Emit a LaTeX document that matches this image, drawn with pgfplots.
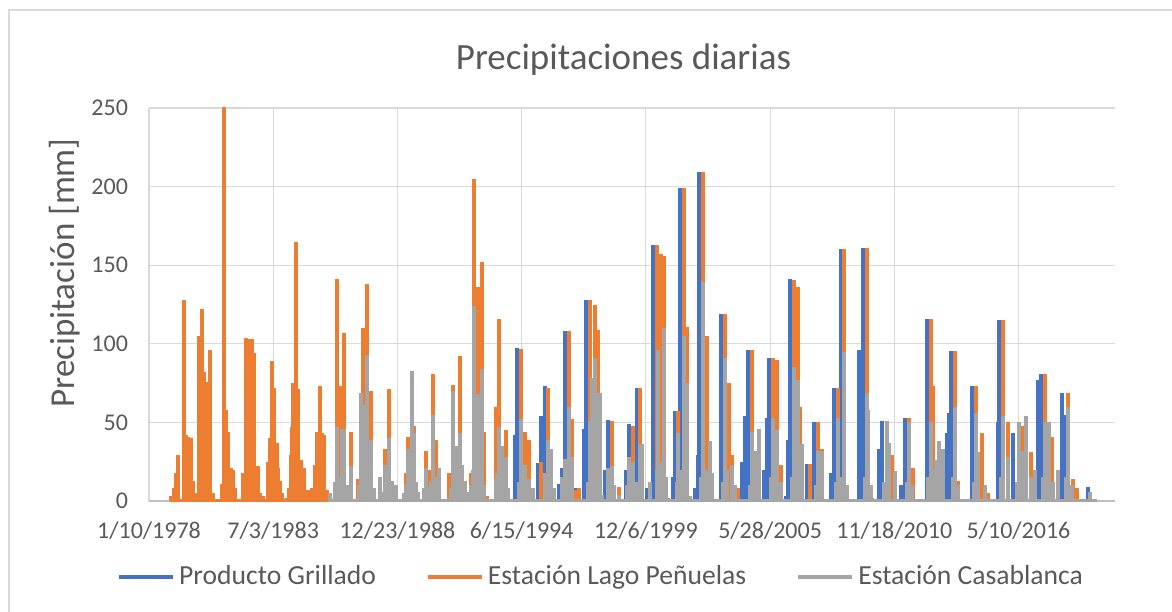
\documentclass[border=0pt]{standalone}
\usepackage{pgfplots}
\pgfplotsset{compat=1.18}
\usepackage{pgfplotstable}
\usepackage{fontspec}
\setmainfont{Carlito}
\definecolor{cblue}{HTML}{4472C4}
\definecolor{corange}{HTML}{ED7D31}
\definecolor{cgray}{HTML}{A5A5A5}
\definecolor{cgrid}{HTML}{D9D9D9}
\definecolor{ctext}{HTML}{595959}
\definecolor{caxis}{HTML}{BFBFBF}

% Producto Grillado
\pgfplotstableread{
d h
34393 42
34420 97.5
34758 24
34812 54
34876 73
35101 11
35144 21
35198 108
35370 8
35509 46
35531 128
35842 20
35896 51.5
36175 20
36235 49
36352 72
36513 8
36620 163
36942 15
36969 57
37050 199
37291 8
37334 29
37355 209
37710 119
38042 25
38096 54
38150 96
38407 20
38445 53
38488 91
38756 3
38790 39
38815 141
39094 23.5
39212 50
39475 18
39534 72
39636 160
39931 96
39991 161
40259 33
40307 51
40608 10
40672 53
41021 116
41354 43
41386 56
41413 95.6
41745 73
42175 50
42191 115
42416 43.5
42808 77
42862 80.5
43194 69
43237 55
43613 9
}\tblblue

% Estacion Lago Penuelas
\pgfplotstableread{
d h
28854 3
28900 8
28930 18
28972 29
29058 128
29091 42
29123 41
29176 40
29214 13
29250 5
29305 105
29348 122
29391 82
29429 76
29487 96
29530 5
29670 11
29705 81
29713 262
29735 58
29777 44
29820 21
29857 20
29890 8
30018 18
30062 104
30110 103
30153 103
30195 94
30234 22
30260 22
30290 5
30340 3
30411 25
30443 40
30475 89
30517 72
30556 37
30582 21
30609 13
30640 5
30717 2
30754 8
30786 29
30807 47
30823 75
30867 165
30904 71
30947 26
30975 12
31000 21
31055 7
31130 8
31173 23
31205 44
31254 73
31291 43
31323 42
31361 7
31522 141
31576 73
31645 107
31747 44
31871 14
31951 110
32005 138
32075 70
32300 33
32364 71
32418 11
32638 18
32676 41
32729 80
32772 48
32955 32
33009 20
33078 81
33116 39
33331 18
33400 74
33508 92
33588 13
33642 3
33685 18
33738 205
33792 136
33856 152
33889 44
33937 3
34082 60
34135 116
34243 45
34490 97
34554 44
34618 39
34812 25
34930 72
35263 108
35316 52
35370 7
35424 8
35601 128
35681 125
35724 109
35960 51
36068 9
36298 48
36406 72
36674 163
36744 157
36797 156
36862 2
37023 57
37114 199
37157 111
37420 209
37479 105
37774 119
37839 75
37881 29
37989 8
38214 96
38552 91
38606 90
38676 23
38890 140.5
38944 136
38982 60
39019 8
39143 23.5
39277 50
39330 33
39599 72
39695 160
40055 161
40146 2
40377 51
40468 29
40737 53
40806 21
41085 116
41128 73
41477 95.6
41531 13
41810 73
41906 43
42014 5
42255 115
42325 50
42561 48
42701 31
42926 80.5
43044 41
43302 69
43382 14
43436 8
}\tblorange

% Estacion Casablanca
\pgfplotstableread{
d h
31420 5
31500 12
31533 47
31580 15
31613 46
31645 46
31700 10
31747 22
31880 10
31914 69
31951 61
32005 93
32040 20
32075 39
32120 8
32220 15
32260 6
32300 23
32364 40
32418 13
32472 10
32600 5
32638 11
32676 33
32700 15
32729 83
32772 43
32800 12
32826 6
32920 8
32955 21
33009 9
33040 12
33078 55
33110 15
33170 21
33360 8
33400 70
33438 35
33470 12
33508 43
33534 23
33588 13
33650 6
33685 10
33710 20
33738 124
33760 30
33792 68
33820 25
33856 84
33900 10
34082 14
34110 18
34135 47
34160 15
34189 35
34243 28
34275 8
34460 12
34490 52
34520 15
34554 23
34618 14
34688 8
34876 18
34900 12
34930 39
34973 33
35026 8
35144 15
35198 27
35230 15
35263 60
35290 12
35316 28
35570 12
35601 51
35638 78
35681 91
35724 69
35762 69
35799 4
35896 21
35960 22
35992 10
36068 4
36200 10
36229 28
36298 25
36350 12
36406 36
36432 36
36567 12
36680 20
36701 96
36760 25
36797 110
36830 15
37000 12
37023 43
37080 20
37114 105
37157 75
37211 3
37390 15
37420 139
37460 20
37500 12
37533 38
37570 18
37740 12
37774 91
37810 20
37881 23
37935 10
38180 10
38214 44
38268 32
38322 46
38520 15
38552 53
38606 45
38676 12
38860 15
38890 85
38944 77
38990 12
39019 36
39240 10
39277 32
39330 32
39560 12
39599 53
39660 15
39695 95
39740 10
40020 15
40055 69
40082 58
40120 10
40340 12
40377 51
40415 37
40511 19
40700 12
40737 50
40780 10
41050 15
41085 50
41120 20
41166 26
41220 38
41289 33
41440 15
41477 60
41520 10
41780 12
41810 56
41853 31
41960 10
42220 15
42255 54
42325 28
42470 12
42507 50
42561 32
42626 54
42700 15
42765 20
42890 15
42926 50
42991 50
43060 12
43130 20
43270 15
43302 60
43360 10
43651 6
}\tblgray

\begin{document}
\begin{tikzpicture}[x=1pt,y=1pt]
\useasboundingbox (0,0) rectangle (586,305.5);
\draw[cgrid, line width=0.6pt] (4.5,-30) rectangle (640,300.5);
\node[text=ctext, font=\fontsize{18.5}{22}\selectfont] at (311.75,275.5) {Precipitaciones diarias};
\begin{axis}[
  at={(74.5pt,55pt)}, anchor=south west,
  width=483pt, height=196.5pt, scale only axis,
  xmin=28500, xmax=44053, ymin=0, ymax=250,
  scaled x ticks=false, scaled y ticks=false,
  xtick={28500,30500,32500,34500,36500,38500,40500,42500},
  xticklabels={1/10/1978,7/3/1983,12/23/1988,6/15/1994,12/6/1999,5/28/2005,11/18/2010,5/10/2016},
  ytick={0,50,100,150,200,250},
  extra y ticks={0}, extra y tick labels={},
  extra y tick style={grid style={caxis, line width=0.7pt}},
  grid=major, grid style={cgrid, line width=0.6pt},
  axis line style={draw=none},
  major tick length=0pt,
  tick label style={text=ctext, font=\fontsize{12}{14}\selectfont},
  yticklabel style={xshift=-7pt},
  xticklabel style={yshift=-7pt},
  /pgf/number format/assume math mode=true,
  ylabel={Precipitación [mm]},
  ylabel style={text=ctext, font=\fontsize{17.5}{20}\selectfont, at={(axis description cs:-0.087,0.58)}, anchor=center},
  legend columns=3,
  legend style={draw=none, fill=none, at={(axis description cs:0.469,-0.193)}, anchor=center,
     font=\fontsize{13.8}{16}\selectfont, text=ctext,
     /tikz/every even column/.append style={column sep=23pt},
     /tikz/column 4/.append style={column sep=29pt}},
  legend image code/.code={\draw[#1] (0pt,0pt) -- (27pt,0pt);},
]
\addplot[cblue, line width=2pt, forget plot] coordinates {(34300,0) (43760,0)};
\addplot[cblue, ycomb, line width=2pt, line cap=butt, forget plot] table[x=d,y=h] {\tblblue};
\addplot[corange, line width=2pt, forget plot] coordinates {(28840,0) (43760,0)};
\addplot[corange, ycomb, line width=2pt, line cap=butt, forget plot] table[x=d,y=h] {\tblorange};
\addplot[cgray, line width=2pt, forget plot] coordinates {(31382,0) (43760,0)};
\addplot[cgray, ycomb, line width=2pt, line cap=butt, forget plot] table[x=d,y=h] {\tblgray};
\addlegendimage{cblue, line width=2pt}
\addlegendimage{corange, line width=2pt}
\addlegendimage{cgray, line width=2pt}
\legend{Producto Grillado, Estación Lago Peñuelas, Estación Casablanca}
\end{axis}
\end{tikzpicture}
\end{document}
